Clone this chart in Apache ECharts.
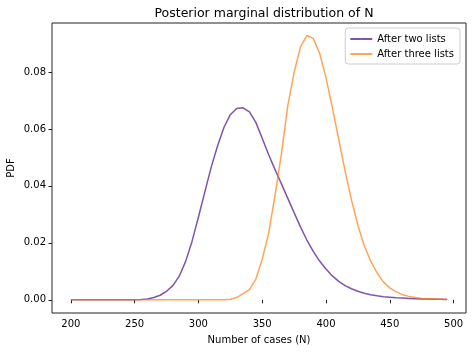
<!DOCTYPE html>
<html>
<head>
<meta charset="utf-8">
<script src="https://cdn.jsdelivr.net/npm/echarts@6/dist/echarts.min.js"></script>
<style>
  html, body { margin: 0; padding: 0; background: #fff; }
  #chart { width: 472px; height: 352px; }
</style>
</head>
<body>
<div id="chart"></div>
<script>
// N values, 200..495 step 5
const cases = [200, 205, 210, 215, 220, 225, 230, 235, 240, 245,
  250, 255, 260, 265, 270, 275, 280, 285, 290, 295,
  300, 305, 310, 315, 320, 325, 330, 335, 340, 345,
  350, 355, 360, 365, 370, 375, 380, 385, 390, 395,
  400, 405, 410, 415, 420, 425, 430, 435, 440, 445,
  450, 455, 460, 465, 470, 475, 480, 485, 490, 495];

const afterTwo = [0, 0, 0, 0, 0, 0, 0, 0, 0, 0,
  0, 0.0001, 0.0003, 0.0008, 0.0016, 0.0030, 0.0050, 0.0083, 0.0135, 0.0205,
  0.0290, 0.0378, 0.0465, 0.0540, 0.0605, 0.0650, 0.0672, 0.0674, 0.0660, 0.0623,
  0.0567, 0.0510, 0.0458, 0.0408, 0.0357, 0.0306, 0.0256, 0.0210, 0.0170, 0.0136,
  0.0108, 0.0084, 0.0065, 0.0050, 0.0039, 0.0030, 0.0023, 0.0018, 0.0014, 0.0011,
  0.0009, 0.0007, 0.0006, 0.0005, 0.0004, 0.0003, 0.0003, 0.0002, 0.0002, 0.0001];

const afterThree = [0, 0, 0, 0, 0, 0, 0, 0, 0, 0,
  0, 0, 0, 0, 0, 0, 0, 0, 0, 0,
  0, 0, 0, 0, 0, 0.0002, 0.0008, 0.0022, 0.0036, 0.0072,
  0.0142, 0.0233, 0.0365, 0.0510, 0.0680, 0.0798, 0.0888, 0.0928, 0.0918, 0.0866,
  0.0780, 0.0675, 0.0563, 0.0452, 0.0350, 0.0262, 0.0190, 0.0136, 0.0095, 0.0063,
  0.0042, 0.0028, 0.0018, 0.0012, 0.0008, 0.0005, 0.0004, 0.0003, 0.0002, 0.0001];

const xTicks = [200, 250, 300, 350, 400, 450, 500];
const yTicks = [0, 0.02, 0.04, 0.06, 0.08];

const font = 'DejaVu Sans';
const chart = echarts.init(document.getElementById('chart'));

const pairs = (ys) => cases.map((x, i) => [x, ys[i]]);

const option = {
  animation: false,
  title: {
    text: 'Posterior marginal distribution of N',
    left: 259,
    textAlign: 'center',
    top: 2,
    textStyle: { fontFamily: font, fontSize: 12.5, fontWeight: 'normal', color: '#000' }
  },
  legend: {
    orient: 'vertical',
    right: 12,
    top: 28,
    itemWidth: 22,
    itemHeight: 2,
    itemGap: 5,
    padding: [6, 6, 5, 4],
    borderColor: '#ccc',
    borderWidth: 1,
    borderRadius: 3,
    backgroundColor: 'rgba(255,255,255,0.8)',
    textStyle: { fontFamily: font, fontSize: 10, color: '#000' },
    data: ['After two lists', 'After three lists']
  },
  grid: {
    left: 52, right: 6, top: 23, bottom: 39,
    outerBoundsMode: 'none',
    show: true, borderColor: '#222', borderWidth: 1
  },
  xAxis: {
    type: 'value',
    min: 185.25,
    max: 509.75,
    name: 'Number of cases (N)',
    nameLocation: 'middle',
    nameGap: 22,
    nameMoveOverlap: false,
    nameTextStyle: { fontFamily: font, fontSize: 10, color: '#000' },
    axisLine: { show: false },
    axisTick: { show: true, length: 3.5, lineStyle: { color: '#222' }, customValues: xTicks },
    axisLabel: { fontFamily: font, fontSize: 10, color: '#000', margin: 6, customValues: xTicks },
    splitLine: { show: false }
  },
  yAxis: {
    type: 'value',
    min: -0.00463,
    max: 0.0972,
    name: 'PDF',
    nameLocation: 'middle',
    nameGap: 36,
    nameMoveOverlap: false,
    nameTextStyle: { fontFamily: font, fontSize: 10, color: '#000' },
    axisLine: { show: false },
    axisTick: { show: true, length: 3.5, lineStyle: { color: '#222' }, customValues: yTicks },
    axisLabel: {
      fontFamily: font, fontSize: 10, color: '#000', margin: 6,
      customValues: yTicks,
      formatter: (v) => v.toFixed(2)
    },
    splitLine: { show: false }
  },
  series: [
    {
      name: 'After two lists',
      type: 'line',
      symbol: 'none',
      data: pairs(afterTwo),
      lineStyle: { color: '#5e2b97', width: 1.5, opacity: 0.8 },
      itemStyle: { color: '#8a68ba' }
    },
    {
      name: 'After three lists',
      type: 'line',
      symbol: 'none',
      data: pairs(afterThree),
      lineStyle: { color: '#ff7f0e', width: 1.5, opacity: 0.7 },
      itemStyle: { color: '#fdab6a' }
    }
  ]
};

chart.setOption(option);
</script>
</body>
</html>
